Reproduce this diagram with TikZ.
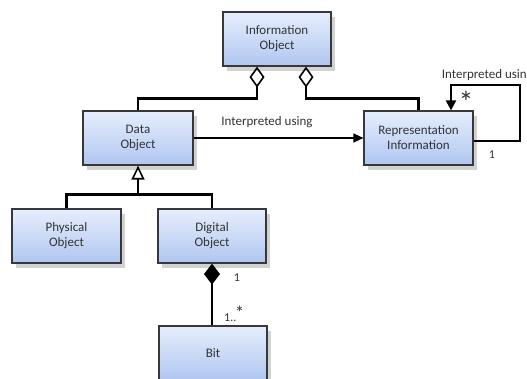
\documentclass[tikz,border=0pt]{standalone}
\usepackage{fontspec}
\setmainfont{Carlito}
\usetikzlibrary{arrows.meta,shadows}
\definecolor{boxtop}{HTML}{E6EEFD}
\definecolor{boxbot}{HTML}{B0C6F0}
\definecolor{boxline}{HTML}{383838}
\definecolor{txt}{HTML}{333333}
\begin{document}
\begin{tikzpicture}[x=1pt,y=-1pt,
  cls/.style={draw=boxline, line width=1.2pt, top color=boxtop, bottom color=boxbot,
    minimum width=108pt, minimum height=54pt, inner sep=0pt, align=center,
    font=\fontsize{13}{15}\selectfont, text=txt,
    drop shadow={shadow xshift=4pt, shadow yshift=-5pt, opacity=0.25, fill=black!70}},
  conn/.style={line width=2.2pt, draw=black},
  lbl/.style={font=\fontsize{13}{15}\selectfont, text=txt, inner sep=0pt}]
\useasboundingbox (0,0) rectangle (527,379);
\node[cls] (IO) at (277,39) {Information\\Object};
\node[cls, minimum width=110pt] (DO) at (138,138) {Data\\Object};
\node[cls, minimum width=109pt] (RI) at (418.5,138) {Representation\\Information};
\node[cls, minimum width=109pt] (PO) at (66.5,236) {Physical\\Object};
\node[cls] (DG) at (212,236) {Digital\\Object};
\node[cls] (BT) at (213,353) {Bit};
% aggregations
\draw[conn, {Diamond[open,length=21pt,width=15pt,line width=1.6pt]}-] ([xshift=-20pt]IO.south) -- ++(0,32) -| (DO.north);
\draw[conn, {Diamond[open,length=21pt,width=15pt,line width=1.6pt]}-] ([xshift=29pt]IO.south) -- ++(0,32) -| (RI.north);
% association
\draw[line width=1.5pt, -{Triangle[length=10pt,width=9pt]}] (DO.east) -- (RI.west);
\node[lbl] (L1) at (267,122) {Interpreted using};
% self loop
\draw[conn, -{Triangle[length=10pt,width=10pt]}] ([yshift=-3pt]RI.east) -| ++(46,-56) -| ([xshift=32.5pt]RI.north);
\node[lbl, anchor=east] (L2) at (527,75) {Interpreted usin};
\node[lbl, font=\fontsize{30}{30}\selectfont] (S1) at (466,102) {*};
\node[lbl, font=\fontsize{12}{12}\selectfont] (N1) at (492,155) {1};
% generalization
\draw[conn, {Triangle[open,length=14pt,width=13pt,line width=1.6pt]}-] (DO.south) -- ++(0,29) coordinate (G);
\draw[conn] (PO.north) |- (G) -| (DG.north);
% composition
\draw[conn, {Diamond[length=21pt,width=16pt]}-] (DG.south) -- (DG.south |- BT.north);
\node[lbl, font=\fontsize{12}{12}\selectfont] (N2) at (237,278) {1};
\node[lbl, font=\fontsize{12}{12}\selectfont, anchor=base west] (N3) at (224,321) {1..\kern-1.5pt\raisebox{2pt}{\fontsize{19}{19}\selectfont *}};
\end{tikzpicture}
\end{document}
